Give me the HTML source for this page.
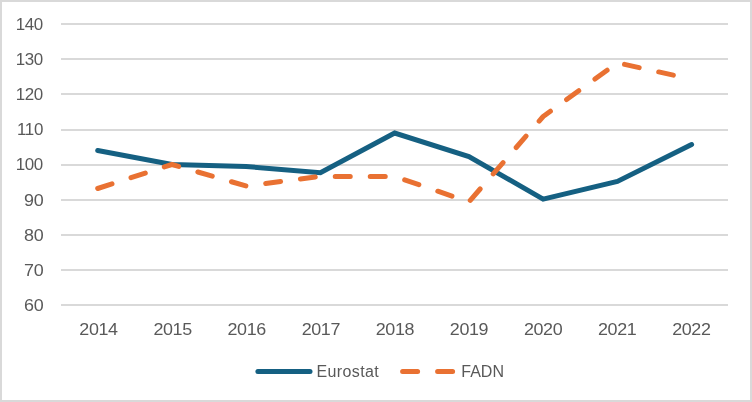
<!DOCTYPE html>
<html>
<head>
<meta charset="utf-8">
<title>Chart</title>
<style>
  html, body { margin: 0; padding: 0; background: #ffffff; }
  body { width: 752px; height: 402px; overflow: hidden; font-family: "Liberation Sans", sans-serif; }
  svg { display: block; will-change: transform; }
  text { font-family: "Liberation Sans", sans-serif; font-size: 16px; fill: #595959; }
</style>
</head>
<body>
<svg width="752" height="402" viewBox="0 0 752 402">
  <rect x="0" y="0" width="752" height="402" fill="#ffffff"/>
  <rect x="1" y="1" width="750" height="400" fill="none" stroke="#d9d9d9" stroke-width="2"/>

  <!-- gridlines -->
  <g fill="#d9d9d9" shape-rendering="crispEdges">
    <rect x="61" y="23" width="667" height="2"/>
    <rect x="61" y="58" width="667" height="2"/>
    <rect x="61" y="93" width="667" height="2"/>
    <rect x="61" y="129" width="667" height="2"/>
    <rect x="61" y="164" width="667" height="2"/>
    <rect x="61" y="199" width="667" height="2"/>
    <rect x="61" y="234" width="667" height="2"/>
    <rect x="61" y="269" width="667" height="2"/>
    <rect x="61" y="304" width="667" height="2"/>
  </g>

  <!-- y labels -->
  <g text-anchor="end">
    <text transform="translate(42.95,29.9) scale(1.06,1)" letter-spacing="-0.33">140</text>
    <text transform="translate(42.95,65.03) scale(1.06,1)" letter-spacing="-0.33">130</text>
    <text transform="translate(42.95,100.15) scale(1.06,1)" letter-spacing="-0.33">120</text>
    <text transform="translate(42.95,135.28) scale(1.06,1)" letter-spacing="-0.33">110</text>
    <text transform="translate(42.95,170.4) scale(1.06,1)" letter-spacing="-0.33">100</text>
    <text transform="translate(43.3,205.53) scale(1.12,1)" letter-spacing="-0.33">90</text>
    <text transform="translate(43.3,240.65) scale(1.12,1)" letter-spacing="-0.33">80</text>
    <text transform="translate(43.3,275.77) scale(1.12,1)" letter-spacing="-0.33">70</text>
    <text transform="translate(43.3,310.9) scale(1.12,1)" letter-spacing="-0.33">60</text>
  </g>

  <!-- x labels -->
  <g text-anchor="middle">
    <text transform="translate(98.5,335.0) scale(1.12,1)" letter-spacing="-0.33">2014</text>
    <text transform="translate(172.6,335.0) scale(1.12,1)" letter-spacing="-0.33">2015</text>
    <text transform="translate(246.7,335.0) scale(1.12,1)" letter-spacing="-0.33">2016</text>
    <text transform="translate(320.8,335.0) scale(1.12,1)" letter-spacing="-0.33">2017</text>
    <text transform="translate(394.9,335.0) scale(1.12,1)" letter-spacing="-0.33">2018</text>
    <text transform="translate(469.0,335.0) scale(1.12,1)" letter-spacing="-0.33">2019</text>
    <text transform="translate(543.1,335.0) scale(1.12,1)" letter-spacing="-0.33">2020</text>
    <text transform="translate(617.2,335.0) scale(1.12,1)" letter-spacing="-0.33">2021</text>
    <text transform="translate(691.3,335.0) scale(1.12,1)" letter-spacing="-0.33">2022</text>
  </g>

  <!-- Eurostat -->
  <polyline fill="none" stroke="#156082" stroke-width="5" stroke-linecap="round" stroke-linejoin="miter"
    points="97.7,150.5 171.94,164.5 246.18,166.5 320.42,172.7 394.66,133.0 468.9,156.5 543.14,199.2 617.38,181.5 691.62,144.6"/>

  <!-- FADN -->
  <polyline fill="none" stroke="#e97132" stroke-width="5" stroke-linecap="round" stroke-linejoin="round" stroke-dasharray="15 20"
    points="97.7,188.5 171.94,164.5 246.18,186 320.42,176.4 394.66,176.4 468.9,201.9 543.14,116.5 617.38,62.8 691.62,79.2"/>

  <!-- legend -->
  <line x1="257.9" x2="310" y1="371.6" y2="371.6" stroke="#156082" stroke-width="5" stroke-linecap="round"/>
  <text x="316.5" y="377.4" letter-spacing="0.38">Eurostat</text>
  <line x1="402.6" x2="454.7" y1="371.6" y2="371.6" stroke="#e97132" stroke-width="5" stroke-linecap="round" stroke-dasharray="15 20"/>
  <text x="461.3" y="377.4">FADN</text>
</svg>
</body>
</html>
